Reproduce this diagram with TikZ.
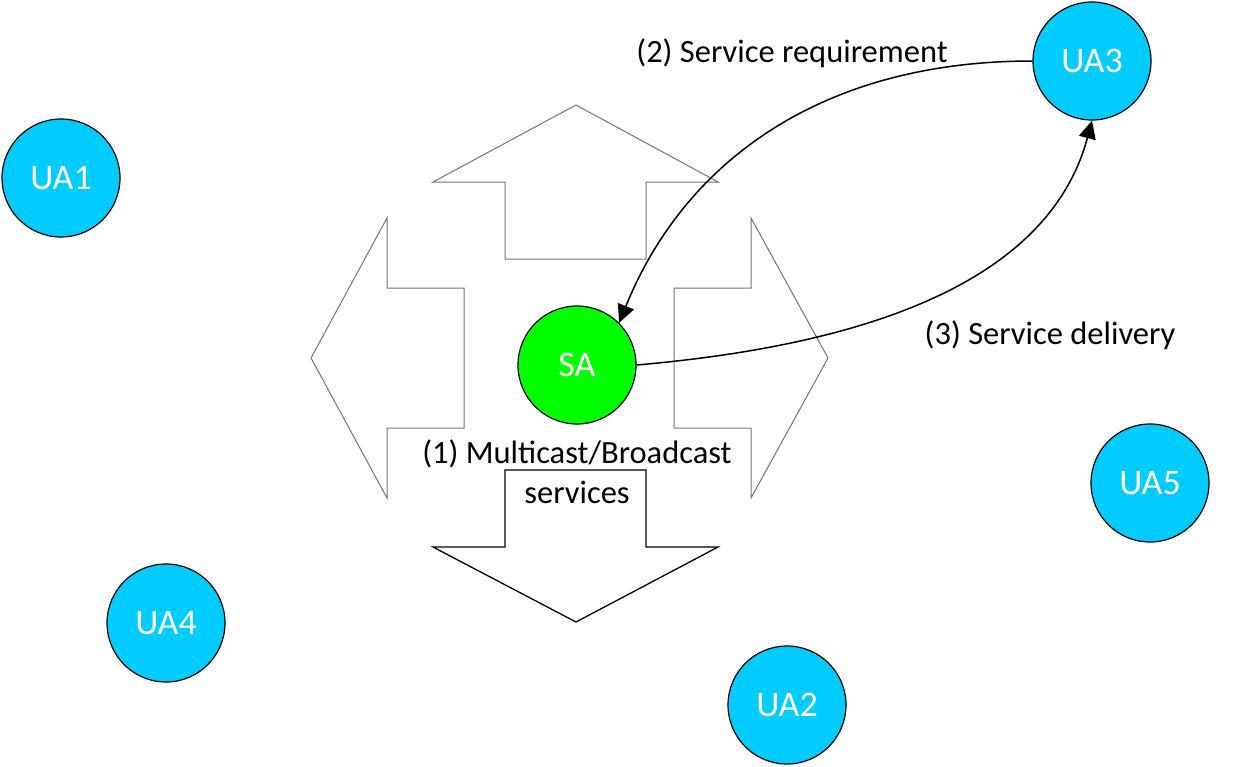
\documentclass[tikz,border=0pt]{standalone}
\usepackage{fontspec}
\setmainfont{Carlito}
\usepackage{tikz}
\usetikzlibrary{arrows.meta, positioning}
\definecolor{uaBlue}{RGB}{0,204,255}
\definecolor{saGreen}{RGB}{0,255,0}
\colorlet{outlineGrey}{black!55}
\tikzstyle{agent}=[circle, draw=black, line width=1.2pt, minimum size=118pt,
  inner sep=0pt, text=white, font=\fontsize{36}{40}\selectfont]
\tikzstyle{userAgent}=[agent, fill=uaBlue]
\tikzstyle{serviceAgent}=[agent, fill=saGreen]
\tikzstyle{castArrow}=[draw=outlineGrey, line width=1pt, line join=miter]
\tikzstyle{castArrowDown}=[draw=black, line width=1.3pt, line join=miter]
\tikzstyle{msgArrow}=[-{Triangle[length=18pt, width=17pt]}, line width=1.5pt]
\tikzstyle{msgText}=[font=\fontsize{32.5}{40}\selectfont, inner sep=0pt, align=center]

\begin{document}
\begin{tikzpicture}[x=1pt, y=-1pt]
  \useasboundingbox (0,0) rectangle (1257,766);
  % broadcast arrows round the service agent
  \draw[castArrow] (576,105) -- (718,182) -- (646,182) -- (646,259)
    -- (505,259) -- (505,182) -- (433,182) -- cycle;
  \draw[castArrow] (311,358) -- (387,218) -- (387,288) -- (464,288)
    -- (464,428) -- (387,428) -- (387,498) -- cycle;
  \draw[castArrow] (828,358) -- (751,218) -- (751,288) -- (674,288)
    -- (674,428) -- (751,428) -- (751,498) -- cycle;
  \draw[castArrowDown] (576,622) -- (718,547) -- (646,547) -- (646,470)
    -- (505,470) -- (505,547) -- (433,547) -- cycle;

  \node[serviceAgent] (SA) at (577,365) {SA};
  \node[userAgent] (UA1) at (61,178) {UA1};
  \node[userAgent] (UA2) at (787,705) {UA2};
  \node[userAgent] (UA3) at (1092,61) {UA3};
  \node[userAgent] (UA4) at (166,623) {UA4};
  \node[userAgent] (UA5) at (1150,483) {UA5};

  \draw[msgArrow] (UA3.west) to[out=180, in=68, out distance=215pt,
    in distance=170pt] (SA.north east);
  \draw[msgArrow] (SA.east) to[out=5, in=-105, out distance=200pt,
    in distance=180pt] (UA3.south);

  \node[msgText] (reqText) at (792,53) {(2) Service requirement};
  \node[msgText] (delText) at (1050,335) {(3) Service delivery};
  \node[msgText] (castText) at (577,472) {(1) Multicast/Broadcast\\services};
\end{tikzpicture}
\end{document}
